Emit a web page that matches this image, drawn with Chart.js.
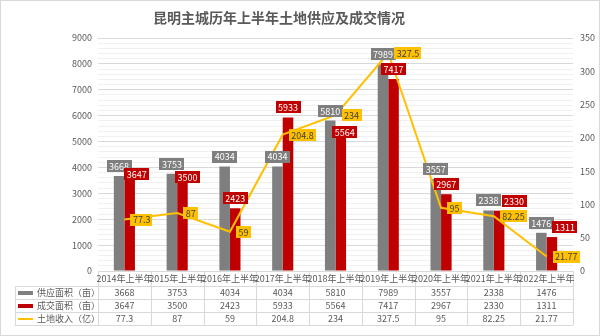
<!DOCTYPE html>
<html>
<head>
<meta charset="utf-8">
<script src="https://cdn.jsdelivr.net/npm/chart.js@4"></script>
<style>
  html, body { margin: 0; padding: 0; background: #fff; }
  canvas { display: block; }
</style>
</head>
<body>
<canvas id="chart" width="600" height="336"></canvas>
<script>
  "use strict";

  const TITLE = "昆明主城历年上半年土地供应及成交情况";
  const CATEGORIES = [
    "2014年上半年", "2015年上半年", "2016年上半年", "2017年上半年", "2018年上半年",
    "2019年上半年", "2020年上半年", "2021年上半年", "2022年上半年",
  ];
  const SERIES_NAMES = ["供应面积（亩）", "成交面积（亩）", "土地收入（亿）"];
  const SUPPLY_AREA = [3668, 3753, 4034, 4034, 5810, 7989, 3557, 2338, 1476];
  const DEAL_AREA = [3647, 3500, 2423, 5933, 5564, 7417, 2967, 2330, 1311];
  const LAND_INCOME = [77.3, 87, 59, 204.8, 234, 327.5, 95, 82.25, 21.77];

  const GRAY = "#7f7f7f";
  const RED = "#c00000";
  const YELLOW = "#ffc000";
  const TEXT = "#595959";
  const GRID_MAJOR = "#d9d9d9";
  const GRID_MINOR = "#f0f0f0";
  const FONT = '"Noto Sans CJK SC", "Microsoft YaHei", sans-serif';
  const SMALL = 9;

  const AREA_LEFT = 98;
  const AREA_RIGHT = 573;
  const TABLE_LEFT = 15;
  const ROW_H = 13;

  // Excel had some red labels dragged by hand; pixel nudges [dx, dy]
  const DEAL_LABEL_NUDGE = [[7, 7], [5, 7], [0, 0], [0, 0], [4, 15], [0, 0], [0, 0], [15, 0], [13, 0]];

  function drawBox(ctx, text, cx, cy, bg, fg) {
    ctx.font = SMALL + "px " + FONT;
    const w = ctx.measureText(text).width + 5;
    const h = 12;
    ctx.fillStyle = bg;
    ctx.fillRect(Math.round(cx - w / 2), Math.round(cy - h / 2), Math.round(w), h);
    ctx.fillStyle = fg;
    ctx.textAlign = "center";
    ctx.textBaseline = "middle";
    ctx.fillText(text, cx, cy + 0.5);
  }

  const backgroundPlugin = {
    id: "background",
    beforeDraw(chart) {
      const ctx = chart.ctx;
      ctx.save();
      ctx.fillStyle = "#fff";
      ctx.fillRect(0, 0, chart.width, chart.height);
      ctx.strokeStyle = GRID_MAJOR;
      ctx.lineWidth = 1;
      ctx.strokeRect(0.5, 0.5, chart.width - 1, chart.height - 1);
      ctx.font = "bold 14px " + FONT;
      ctx.fillStyle = TEXT;
      ctx.textAlign = "center";
      ctx.textBaseline = "middle";
      ctx.fillText(TITLE, 279, 18);
      ctx.restore();
    },
  };

  const valueLabelPlugin = {
    id: "valueLabels",
    afterDatasetsDraw(chart) {
      const ctx = chart.ctx;
      ctx.save();
      const supply = chart.getDatasetMeta(0).data;
      const deal = chart.getDatasetMeta(1).data;
      const income = chart.getDatasetMeta(2).data;
      supply.forEach((bar, i) => {
        drawBox(ctx, String(SUPPLY_AREA[i]), bar.x, bar.y - 10, GRAY, "#fff");
      });
      deal.forEach((bar, i) => {
        const [dx, dy] = DEAL_LABEL_NUDGE[i];
        drawBox(ctx, String(DEAL_AREA[i]), bar.x + dx, bar.y - 10 + dy, RED, "#fff");
      });
      income.forEach((pt, i) => {
        const text = String(LAND_INCOME[i]);
        ctx.font = SMALL + "px " + FONT;
        const w = ctx.measureText(text).width + 5;
        drawBox(ctx, text, pt.x + 6 + w / 2, pt.y, YELLOW, "#404040");
      });
      ctx.restore();
    },
  };

  const dataTablePlugin = {
    id: "dataTable",
    afterDraw(chart) {
      const ctx = chart.ctx;
      const xScale = chart.scales.x;
      const { bottom } = chart.chartArea;
      const colW = (AREA_RIGHT - AREA_LEFT) / CATEGORIES.length;
      const headBottom = bottom + 15;
      const tableBottom = headBottom + ROW_H * 3;
      ctx.save();
      ctx.strokeStyle = GRID_MAJOR;
      ctx.lineWidth = 1;
      ctx.beginPath();
      for (let r = 0; r <= 3; r++) {
        const y = Math.round(headBottom + r * ROW_H) + 0.5;
        ctx.moveTo(TABLE_LEFT, y);
        ctx.lineTo(AREA_RIGHT, y);
      }
      ctx.moveTo(TABLE_LEFT + 0.5, headBottom);
      ctx.lineTo(TABLE_LEFT + 0.5, tableBottom);
      for (let c = 0; c <= CATEGORIES.length; c++) {
        const x = Math.round(AREA_LEFT + c * colW) + 0.5;
        ctx.moveTo(x, bottom);
        ctx.lineTo(x, tableBottom);
      }
      ctx.stroke();

      ctx.font = SMALL + "px " + FONT;
      ctx.fillStyle = TEXT;
      ctx.textAlign = "center";
      ctx.textBaseline = "middle";
      const rows = [SUPPLY_AREA, DEAL_AREA, LAND_INCOME];
      CATEGORIES.forEach((cat, i) => {
        const x = xScale.getPixelForValue(i);
        ctx.fillText(cat, x, bottom + 8);
        rows.forEach((row, r) => {
          ctx.fillText(String(row[i]), x, headBottom + r * ROW_H + ROW_H / 2 + 0.5);
        });
      });

      const swatches = [GRAY, RED, YELLOW];
      SERIES_NAMES.forEach((name, r) => {
        const cy = headBottom + r * ROW_H + ROW_H / 2;
        ctx.fillStyle = swatches[r];
        if (r === 2) ctx.fillRect(18, Math.round(cy) - 1, 15, 2);
        else ctx.fillRect(18, Math.round(cy) - 2, 15, 4);
        ctx.fillStyle = TEXT;
        ctx.textAlign = "left";
        ctx.fillText(name, 37, cy + 0.5);
      });
      ctx.restore();
    },
  };

  new Chart(document.getElementById("chart"), {
    data: {
      labels: CATEGORIES,
      datasets: [
        {
          type: "bar",
          label: SERIES_NAMES[0],
          data: SUPPLY_AREA,
          backgroundColor: GRAY,
          yAxisID: "y",
          order: 2,
        },
        {
          type: "bar",
          label: SERIES_NAMES[1],
          data: DEAL_AREA,
          backgroundColor: RED,
          yAxisID: "y",
          order: 2,
        },
        {
          type: "line",
          label: SERIES_NAMES[2],
          data: LAND_INCOME,
          borderColor: YELLOW,
          borderWidth: 2,
          pointRadius: 0,
          tension: 0,
          yAxisID: "y1",
          order: 0,
        },
      ],
    },
    options: {
      responsive: false,
      animation: false,
      devicePixelRatio: 1,
      events: [],
      datasets: {
        bar: { categoryPercentage: 0.4, barPercentage: 1 },
      },
      layout: { padding: { top: 38, bottom: 65, left: 0, right: 0 } },
      plugins: {
        legend: { display: false },
        tooltip: { enabled: false },
        title: { display: false },
      },
      scales: {
        x: { display: false, offset: true },
        y: {
          position: "left",
          min: 0,
          max: 9000,
          afterFit(scale) { scale.width = AREA_LEFT; },
          border: { display: false },
          grid: {
            drawTicks: false,
            color: (c) => (c.tick && c.tick.value % 1000 === 0 ? GRID_MAJOR : GRID_MINOR),
          },
          ticks: {
            stepSize: 200,
            autoSkip: false,
            padding: 6,
            color: TEXT,
            font: { family: FONT, size: SMALL },
            callback: (v) => (v % 1000 === 0 ? v : ""),
          },
        },
        y1: {
          position: "right",
          min: 0,
          max: 350,
          afterFit(scale) { scale.width = 600 - AREA_RIGHT; },
          border: { display: false },
          grid: { display: false, drawTicks: false },
          ticks: {
            stepSize: 50,
            padding: 7,
            color: TEXT,
            font: { family: FONT, size: SMALL },
          },
        },
      },
    },
    plugins: [backgroundPlugin, valueLabelPlugin, dataTablePlugin],
  });
</script>
</body>
</html>
